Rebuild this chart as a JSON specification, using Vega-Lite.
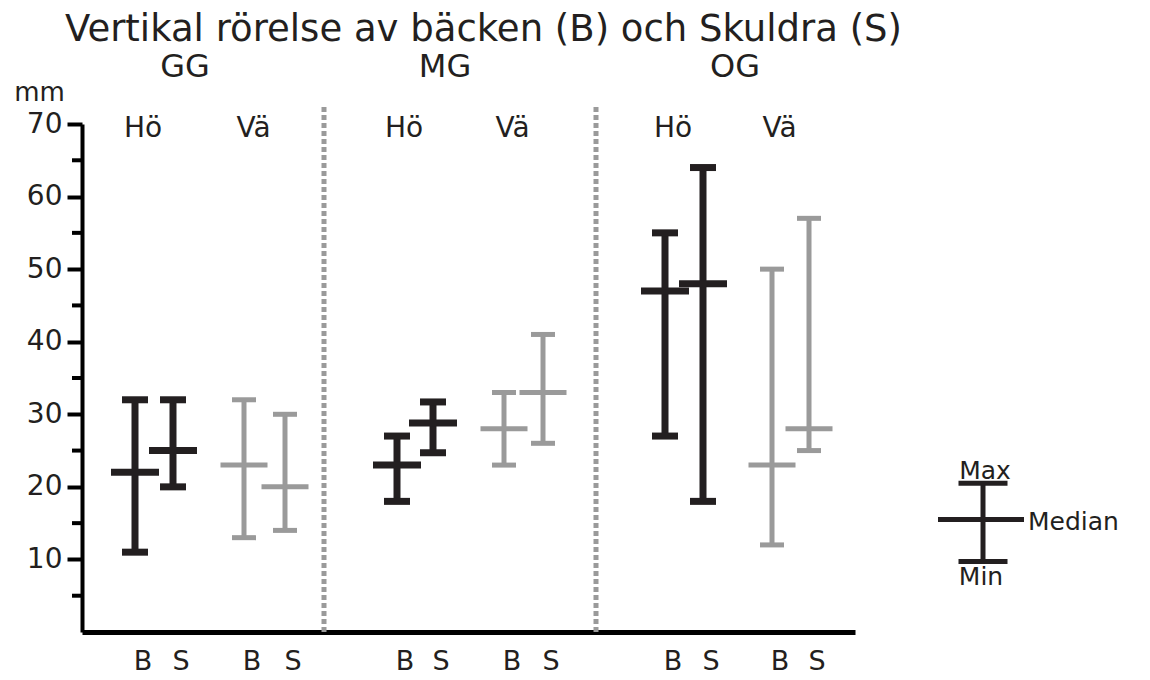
{
  "$schema": "https://vega.github.io/schema/vega-lite/v6.json",
  "width": 773,
  "height": 508,
  "autosize": {"type": "none"},
  "padding": {"left": 82, "top": 124, "right": 295, "bottom": 48},
  "background": "white",
  "config": {
    "view": {"stroke": null},
    "text": {"font": "DejaVu Sans", "color": "#231f20"},
    "tick": {"opacity": 1}
  },
  "datasets": {
    "ranges": [
      {"grp": "GG", "side": "Hö", "part": "B", "x": 53, "min": 11, "median": 22, "max": 32},
      {"grp": "GG", "side": "Hö", "part": "S", "x": 91, "min": 20, "median": 25, "max": 32},
      {"grp": "GG", "side": "Vä", "part": "B", "x": 162, "min": 13, "median": 23, "max": 32},
      {"grp": "GG", "side": "Vä", "part": "S", "x": 203, "min": 14, "median": 20, "max": 30},
      {"grp": "MG", "side": "Hö", "part": "B", "x": 315, "min": 18, "median": 23, "max": 27},
      {"grp": "MG", "side": "Hö", "part": "S", "x": 351, "min": 24.7, "median": 28.8, "max": 31.7},
      {"grp": "MG", "side": "Vä", "part": "B", "x": 422, "min": 23, "median": 28, "max": 33},
      {"grp": "MG", "side": "Vä", "part": "S", "x": 461, "min": 26, "median": 33, "max": 41},
      {"grp": "OG", "side": "Hö", "part": "B", "x": 583, "min": 27, "median": 47, "max": 55},
      {"grp": "OG", "side": "Hö", "part": "S", "x": 621, "min": 18, "median": 48, "max": 64},
      {"grp": "OG", "side": "Vä", "part": "B", "x": 690, "min": 12, "median": 23, "max": 50},
      {"grp": "OG", "side": "Vä", "part": "S", "x": 727, "min": 25, "median": 28, "max": 57}
    ],
    "dividers": [{"x": 242}, {"x": 514}],
    "minorTicks": [{"v": 5}, {"v": 15}, {"v": 25}, {"v": 35}, {"v": 45}, {"v": 55}, {"v": 65}],
    "key": [{"min": 9.7, "median": 15.5, "max": 20.5}],
    "one": [{}]
  },
  "layer": [
    {
      "data": {"name": "ranges"},
      "transform": [{"filter": "datum.side === 'Hö'"}],
      "mark": {"type": "rule", "color": "#231f20", "strokeWidth": 7},
      "encoding": {
        "x": {"field": "x", "type": "quantitative", "scale": {"domain": [0, 773], "nice": false, "zero": false},
          "axis": {"orient": "bottom", "labels": false, "ticks": false, "title": null, "grid": false, "domainColor": "#000", "domainWidth": 5}},
        "y": {"field": "min", "type": "quantitative", "scale": {"domain": [0, 70], "nice": false, "zero": false},
          "axis": {
            "orient": "left",
            "values": [10, 20, 30, 40, 50, 60, 70],
            "tickSize": 15,
            "tickWidth": 4, "tickColor": "#000", "domainColor": "#000", "domainWidth": 4,
            "labelFont": "DejaVu Sans", "labelFontSize": 28, "labelColor": "#231f20", "labelPadding": 5,
            "grid": false, "title": "mm", "titleAngle": 0, "titleX": -43, "titleY": -32,
            "titleFont": "DejaVu Sans", "titleFontSize": 26, "titleFontWeight": "normal", "titleColor": "#231f20",
            "titleAlign": "center", "titleBaseline": "middle"
          }},
        "y2": {"field": "max"}
      }
    },
    {
      "data": {"name": "minorTicks"},
      "mark": {"type": "rule", "color": "#000", "strokeWidth": 4},
      "encoding": {
        "x": {"datum": -10, "type": "quantitative", "scale": {"domain": [0, 773], "nice": false, "zero": false}},
        "x2": {"datum": 0},
        "y": {"field": "v", "type": "quantitative", "scale": {"domain": [0, 70], "nice": false, "zero": false}}
      }
    },
    {
      "data": {"name": "ranges"},
      "transform": [{"filter": "datum.side === 'Hö'"}, {"fold": ["min", "max"], "as": ["stat", "val"]}],
      "mark": {"type": "tick", "orient": "horizontal", "color": "#231f20", "thickness": 7, "size": 26},
      "encoding": {
        "x": {"field": "x", "type": "quantitative", "scale": {"domain": [0, 773], "nice": false, "zero": false}},
        "y": {"field": "val", "type": "quantitative", "scale": {"domain": [0, 70], "nice": false, "zero": false}}
      }
    },
    {
      "data": {"name": "ranges"},
      "transform": [{"filter": "datum.side === 'Hö'"}],
      "mark": {"type": "tick", "orient": "horizontal", "color": "#231f20", "thickness": 7, "size": 48},
      "encoding": {
        "x": {"field": "x", "type": "quantitative", "scale": {"domain": [0, 773], "nice": false, "zero": false}},
        "y": {"field": "median", "type": "quantitative", "scale": {"domain": [0, 70], "nice": false, "zero": false}}
      }
    },
    {
      "data": {"name": "ranges"},
      "transform": [{"filter": "datum.side === 'Vä'"}],
      "mark": {"type": "rule", "color": "#9a9a9a", "strokeWidth": 5},
      "encoding": {
        "x": {"field": "x", "type": "quantitative", "scale": {"domain": [0, 773], "nice": false, "zero": false}},
        "y": {"field": "min", "type": "quantitative", "scale": {"domain": [0, 70], "nice": false, "zero": false}},
        "y2": {"field": "max"}
      }
    },
    {
      "data": {"name": "ranges"},
      "transform": [{"filter": "datum.side === 'Vä'"}, {"fold": ["min", "max"], "as": ["stat", "val"]}],
      "mark": {"type": "tick", "orient": "horizontal", "color": "#9a9a9a", "thickness": 5, "size": 24},
      "encoding": {
        "x": {"field": "x", "type": "quantitative", "scale": {"domain": [0, 773], "nice": false, "zero": false}},
        "y": {"field": "val", "type": "quantitative", "scale": {"domain": [0, 70], "nice": false, "zero": false}}
      }
    },
    {
      "data": {"name": "ranges"},
      "transform": [{"filter": "datum.side === 'Vä'"}],
      "mark": {"type": "tick", "orient": "horizontal", "color": "#9a9a9a", "thickness": 5, "size": 47},
      "encoding": {
        "x": {"field": "x", "type": "quantitative", "scale": {"domain": [0, 773], "nice": false, "zero": false}},
        "y": {"field": "median", "type": "quantitative", "scale": {"domain": [0, 70], "nice": false, "zero": false}}
      }
    },
    {
      "data": {"name": "dividers"},
      "mark": {"type": "rule", "color": "#9a9a9a", "strokeWidth": 5, "strokeDash": [5, 3]},
      "encoding": {
        "x": {"field": "x", "type": "quantitative", "scale": {"domain": [0, 773], "nice": false, "zero": false}},
        "y": {"datum": 0, "type": "quantitative", "scale": {"domain": [0, 70], "nice": false, "zero": false}},
        "y2": {"datum": 72.4}
      }
    },
    {
      "data": {"name": "ranges"},
      "mark": {"type": "text", "fontSize": 27, "baseline": "middle", "align": "center", "dx": 8},
      "encoding": {
        "x": {"field": "x", "type": "quantitative", "scale": {"domain": [0, 773], "nice": false, "zero": false}},
        "y": {"datum": -4.1, "type": "quantitative", "scale": {"domain": [0, 70], "nice": false, "zero": false}},
        "text": {"field": "part"}
      }
    },
    {
      "data": {"name": "ranges"},
      "transform": [{"aggregate": [{"op": "mean", "field": "x", "as": "x"}], "groupby": ["grp", "side"]}],
      "mark": {"type": "text", "fontSize": 28, "baseline": "middle", "align": "center", "dx": -11},
      "encoding": {
        "x": {"field": "x", "type": "quantitative", "scale": {"domain": [0, 773], "nice": false, "zero": false}},
        "y": {"datum": 69.3, "type": "quantitative", "scale": {"domain": [0, 70], "nice": false, "zero": false}},
        "text": {"field": "side"}
      }
    },
    {
      "data": {"name": "one"},
      "mark": {"type": "text", "fontSize": 32, "baseline": "middle", "align": "center"},
      "encoding": {
        "x": {"datum": 103, "type": "quantitative", "scale": {"domain": [0, 773], "nice": false, "zero": false}},
        "y": {"datum": 77.8, "type": "quantitative", "scale": {"domain": [0, 70], "nice": false, "zero": false}},
        "text": {"value": "GG"}
      }
    },
    {
      "data": {"name": "one"},
      "mark": {"type": "text", "fontSize": 32, "baseline": "middle", "align": "center"},
      "encoding": {
        "x": {"datum": 363, "type": "quantitative", "scale": {"domain": [0, 773], "nice": false, "zero": false}},
        "y": {"datum": 77.8, "type": "quantitative", "scale": {"domain": [0, 70], "nice": false, "zero": false}},
        "text": {"value": "MG"}
      }
    },
    {
      "data": {"name": "one"},
      "mark": {"type": "text", "fontSize": 32, "baseline": "middle", "align": "center"},
      "encoding": {
        "x": {"datum": 653, "type": "quantitative", "scale": {"domain": [0, 773], "nice": false, "zero": false}},
        "y": {"datum": 77.8, "type": "quantitative", "scale": {"domain": [0, 70], "nice": false, "zero": false}},
        "text": {"value": "OG"}
      }
    },
    {
      "data": {"name": "one"},
      "mark": {"type": "text", "fontSize": 37, "baseline": "middle", "align": "center"},
      "encoding": {
        "x": {"datum": 401.5, "type": "quantitative", "scale": {"domain": [0, 773], "nice": false, "zero": false}},
        "y": {"datum": 83.0, "type": "quantitative", "scale": {"domain": [0, 70], "nice": false, "zero": false}},
        "text": {"value": "Vertikal rörelse av bäcken (B) och Skuldra (S)"}
      }
    },
    {
      "data": {"name": "key"},
      "mark": {"type": "rule", "color": "#231f20", "strokeWidth": 5},
      "encoding": {
        "x": {"datum": 901, "type": "quantitative", "scale": {"domain": [0, 773], "nice": false, "zero": false}},
        "y": {"field": "min", "type": "quantitative", "scale": {"domain": [0, 70], "nice": false, "zero": false}},
        "y2": {"field": "max"}
      }
    },
    {
      "data": {"name": "key"},
      "transform": [{"fold": ["min", "max"], "as": ["stat", "val"]}],
      "mark": {"type": "tick", "orient": "horizontal", "color": "#231f20", "thickness": 5, "size": 49},
      "encoding": {
        "x": {"datum": 901, "type": "quantitative", "scale": {"domain": [0, 773], "nice": false, "zero": false}},
        "y": {"field": "val", "type": "quantitative", "scale": {"domain": [0, 70], "nice": false, "zero": false}}
      }
    },
    {
      "data": {"name": "key"},
      "mark": {"type": "tick", "orient": "horizontal", "color": "#231f20", "thickness": 5, "size": 86},
      "encoding": {
        "x": {"datum": 899, "type": "quantitative", "scale": {"domain": [0, 773], "nice": false, "zero": false}},
        "y": {"field": "median", "type": "quantitative", "scale": {"domain": [0, 70], "nice": false, "zero": false}}
      }
    },
    {
      "data": {"name": "key"},
      "mark": {"type": "text", "fontSize": 25, "baseline": "alphabetic", "align": "center", "dy": -4},
      "encoding": {
        "x": {"datum": 903, "type": "quantitative", "scale": {"domain": [0, 773], "nice": false, "zero": false}},
        "y": {"field": "max", "type": "quantitative", "scale": {"domain": [0, 70], "nice": false, "zero": false}},
        "text": {"value": "Max"}
      }
    },
    {
      "data": {"name": "key"},
      "mark": {"type": "text", "fontSize": 25, "baseline": "middle", "align": "left", "dx": 45, "dy": 2},
      "encoding": {
        "x": {"datum": 901, "type": "quantitative", "scale": {"domain": [0, 773], "nice": false, "zero": false}},
        "y": {"field": "median", "type": "quantitative", "scale": {"domain": [0, 70], "nice": false, "zero": false}},
        "text": {"value": "Median"}
      }
    },
    {
      "data": {"name": "key"},
      "mark": {"type": "text", "fontSize": 25, "baseline": "top", "align": "center", "dy": 3},
      "encoding": {
        "x": {"datum": 899, "type": "quantitative", "scale": {"domain": [0, 773], "nice": false, "zero": false}},
        "y": {"field": "min", "type": "quantitative", "scale": {"domain": [0, 70], "nice": false, "zero": false}},
        "text": {"value": "Min"}
      }
    }
  ]
}
